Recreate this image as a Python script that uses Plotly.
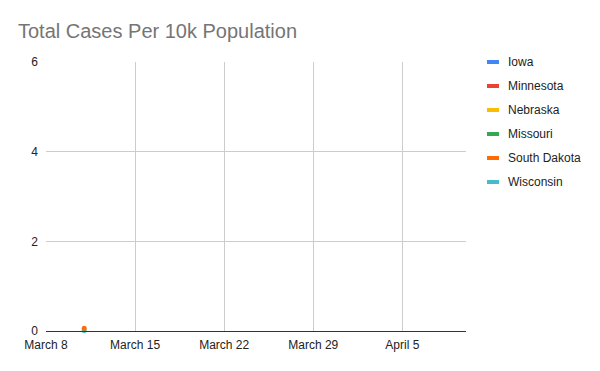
import plotly.graph_objects as go

dates = ["2020-03-08", "2020-03-09", "2020-03-10", "2020-03-11", "2020-03-12"]
series_names = ["Iowa", "Minnesota", "Nebraska", "Missouri", "South Dakota", "Wisconsin"]
series_colors = ["#4285F4", "#EA4335", "#FBBC04", "#34A853", "#FF6D01", "#46BDC6"]
series_values = {
    "Iowa": [None, None, None, None, None],
    "Minnesota": [None, None, None, None, None],
    "Nebraska": [None, None, None, None, None],
    "Missouri": [None, None, None, None, None],
    "South Dakota": [None, None, None, 0.06, None],
    "Wisconsin": [None, None, None, 0.01, None],
}
x_tickvals = ["2020-03-08", "2020-03-15", "2020-03-22", "2020-03-29", "2020-04-05"]
x_ticktext = ["March 8", "March 15", "March 22", "March 29", "April 5"]
y_tickvals = [0, 2, 4, 6]

W, H = 600, 371
L, R, T, B = 46, 134, 62, 40
plot_w, plot_h = W - L - R, H - T - B

fig = go.Figure()
# draw Wisconsin first so South Dakota sits on top
order = ["Iowa", "Minnesota", "Nebraska", "Missouri", "Wisconsin", "South Dakota"]
for name in order:
    color = series_colors[series_names.index(name)]
    fig.add_trace(go.Scatter(
        x=dates, y=series_values[name], name=name,
        mode="lines+markers",
        line=dict(color=color, width=2),
        marker=dict(color=color, size=5),
        showlegend=False, cliponaxis=False,
    ))

# custom legend (Google Sheets style)
for i, (name, color) in enumerate(zip(series_names, series_colors)):
    py = 62 + 24 * i
    yp = (H - B - py) / plot_h
    x0 = (487 - L) / plot_w
    x1 = (499 - L) / plot_w
    fig.add_shape(type="line", xref="paper", yref="paper",
                  x0=x0, x1=x1, y0=yp, y1=yp,
                  line=dict(color=color, width=4))
    fig.add_annotation(xref="paper", yref="paper",
                       x=(506 - L) / plot_w, y=yp, text=name,
                       showarrow=False, xanchor="left", yanchor="middle",
                       font=dict(family="Liberation Sans, Arial", size=12, color="#222222"))

fig.update_layout(
    width=W, height=H,
    margin=dict(l=L, r=R, t=T, b=B),
    paper_bgcolor="white", plot_bgcolor="white",
    title=dict(text="Total Cases Per 10k Population",
               x=18 / W, xanchor="left", y=1 - 31 / H, yanchor="middle",
               font=dict(family="Liberation Sans, Arial", size=20, color="#757575")),
    font=dict(family="Liberation Sans, Arial", size=12, color="#222222"),
    showlegend=False,
)
fig.update_xaxes(
    type="date", range=["2020-03-08", "2020-04-10"],
    tickvals=x_tickvals, ticktext=x_ticktext,
    showgrid=True, gridcolor="#cccccc", gridwidth=1,
    showline=True, linecolor="#333333", linewidth=1,
    ticks="", zeroline=False,
    tickfont=dict(size=12, color="#222222"),
    ticklabelstandoff=3,
)
fig.update_yaxes(
    range=[0, 6], tickvals=y_tickvals,
    showgrid=True, gridcolor="#cccccc", gridwidth=1,
    zeroline=False, showline=False, ticks="",
    tickfont=dict(size=12, color="#222222"),
    ticklabelstandoff=7,
)

fig.write_html("out.html")
